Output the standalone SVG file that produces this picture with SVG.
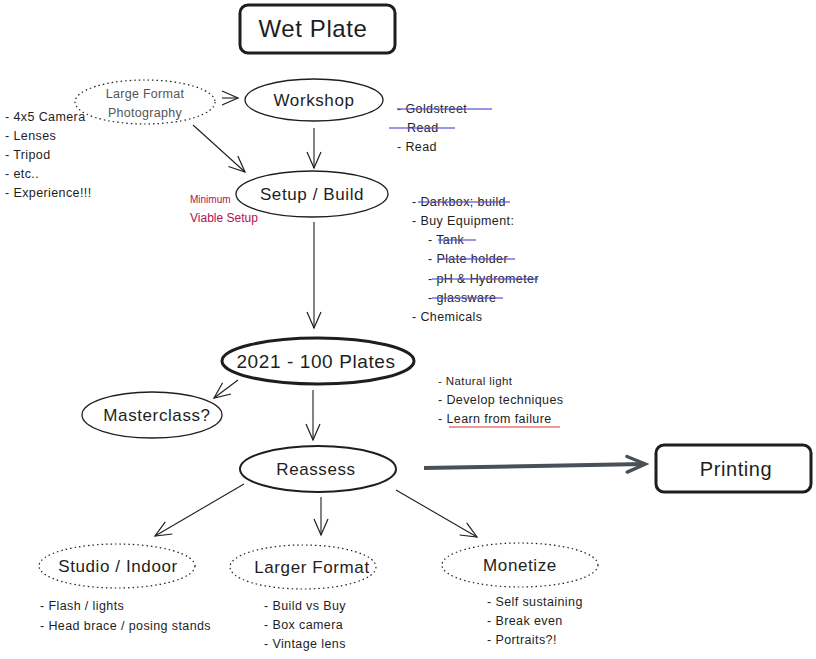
<svg xmlns="http://www.w3.org/2000/svg" width="816" height="659" viewBox="0 0 816 659">
<defs>
<marker id="ah" viewBox="0 0 20 20" refX="18" refY="10" markerWidth="20" markerHeight="20" markerUnits="userSpaceOnUse" orient="auto">
<path d="M2,3 L18,10 L2,17" fill="none" stroke="#1e1e1e" stroke-width="1.2"/>
</marker>
<marker id="ahg" viewBox="0 0 20 20" refX="16" refY="10" markerWidth="26" markerHeight="26" markerUnits="userSpaceOnUse" orient="auto">
<path d="M3,4 L17,10 L3,16" fill="none" stroke="#495057" stroke-width="2.6" stroke-linecap="round"/>
</marker>
</defs>
<style>
text{font-family:"Liberation Sans","Noto Sans",sans-serif;fill:#1e1e1e}
.node{fill:#fff;stroke:#1e1e1e;stroke-width:1.3}
.dot{fill:#fff;stroke:#1e1e1e;stroke-width:1.2;stroke-dasharray:1.5 3}
.t{font-size:17px;letter-spacing:0.6px;text-anchor:middle}
.l{font-size:12.5px;letter-spacing:0.4px}
.red{fill:#b0124f;font-size:12px}
.strike{stroke:#5b4fd6;stroke-width:1.4;opacity:0.8}
.conn{fill:none;stroke:#1e1e1e;stroke-width:1.1;marker-end:url(#ah)}
</style>
<rect width="816" height="659" fill="#fff"/>

<g id="connectors">
<path class="conn" d="M222,98 L238,98"/>
<path class="conn" d="M314,128 L314,168"/>
<path class="conn" d="M193,125 L245,172"/>
<path class="conn" d="M314,222 L314,328"/>
<path class="conn" d="M238,380 L214,398"/>
<path class="conn" d="M313,390 L313,440"/>
<path d="M424,468 L644,464" fill="none" stroke="#495057" stroke-width="4" marker-end="url(#ahg)"/>
<path class="conn" d="M244,484 L155,536"/>
<path class="conn" d="M321,497 L321,535"/>
<path class="conn" d="M396,490 L477,537"/>
</g>

<g id="wet-plate">
<rect x="240" y="5" width="155" height="48" rx="8" fill="#fff" stroke="#1e1e1e" stroke-width="3"/>
<text x="313" y="37" style="font-size:24px;letter-spacing:0.6px;text-anchor:middle">Wet Plate</text>
</g>

<g id="large-format">
<ellipse class="dot" cx="145" cy="102" rx="70" ry="22"/>
<text x="145" y="98" style="font-size:12.5px;letter-spacing:0.3px;text-anchor:middle;fill:#555">Large Format</text>
<text x="145" y="117" style="font-size:12.5px;letter-spacing:0.3px;text-anchor:middle;fill:#555">Photography</text>
</g>

<g id="left-list">
<text class="l" x="5" y="121">- 4x5 Camera</text>
<text class="l" x="5" y="140">- Lenses</text>
<text class="l" x="5" y="159">- Tripod</text>
<text class="l" x="5" y="178">- etc..</text>
<text class="l" x="5" y="197">- Experience!!!</text>
</g>

<g id="workshop">
<ellipse class="node" cx="314" cy="100" rx="69" ry="21"/>
<text class="t" x="314" y="106">Workshop</text>
</g>

<g id="workshop-notes">
<text class="l" x="397" y="113">- Goldstreet</text>
<line class="strike" x1="397" y1="109" x2="492" y2="109"/>
<text class="l" x="407" y="132">Read</text>
<line class="strike" x1="389" y1="128" x2="455" y2="128"/>
<text class="l" x="397" y="151">- Read</text>
</g>

<g id="setup">
<ellipse class="node" cx="312" cy="194" rx="76" ry="23"/>
<text class="t" x="312" y="200">Setup / Build</text>
</g>

<g id="mvs-note">
<text class="red" x="190" y="203" style="font-size:10px">Minimum</text>
<text class="red" x="190" y="222">Viable Setup</text>
</g>

<g id="setup-notes">
<text class="l" x="412" y="206">- Darkbox; build</text>
<line class="strike" x1="418" y1="202" x2="510" y2="202"/>
<text class="l" x="412" y="225">- Buy Equipment:</text>
<text class="l" x="428" y="244">- Tank</text>
<line class="strike" x1="438" y1="240" x2="476" y2="240"/>
<text class="l" x="428" y="263">- Plate holder</text>
<line class="strike" x1="438" y1="259" x2="515" y2="259"/>
<text class="l" x="428" y="283">- pH &amp; Hydrometer</text>
<line class="strike" x1="432" y1="279" x2="538" y2="279"/>
<text class="l" x="428" y="302">- glassware</text>
<line class="strike" x1="432" y1="298" x2="503" y2="298"/>
<text class="l" x="412" y="321">- Chemicals</text>
</g>

<g id="plates">
<ellipse cx="318" cy="361" rx="96" ry="23" fill="#fff" stroke="#1e1e1e" stroke-width="3"/>
<text x="316" y="368" style="font-size:19px;letter-spacing:0.6px;text-anchor:middle">2021 - 100 Plates</text>
</g>

<g id="masterclass">
<ellipse class="node" cx="152" cy="415" rx="70" ry="23"/>
<text class="t" x="157" y="421">Masterclass?</text>
</g>

<g id="plates-notes">
<text class="l" x="438" y="385" style="font-size:11.5px">- Natural light</text>
<text class="l" x="438" y="404">- Develop techniques</text>
<text class="l" x="438" y="423">- Learn from failure</text>
<line x1="449" y1="427" x2="560" y2="427" stroke="#e03131" stroke-width="1.2"/>
</g>

<g id="reassess">
<ellipse cx="318" cy="469" rx="78" ry="23" fill="#fff" stroke="#1e1e1e" stroke-width="2"/>
<text class="t" x="316" y="475">Reassess</text>
</g>

<g id="printing">
<rect x="656" y="445" width="155" height="47" rx="8" fill="#fff" stroke="#1e1e1e" stroke-width="3"/>
<text x="736" y="476" style="font-size:20px;letter-spacing:0.6px;text-anchor:middle">Printing</text>
</g>

<g id="studio">
<ellipse class="dot" cx="117" cy="566" rx="78" ry="22"/>
<text class="t" x="118" y="572">Studio / Indoor</text>
</g>
<g id="studio-notes">
<text class="l" x="40" y="610">- Flash / lights</text>
<text class="l" x="40" y="630">- Head brace / posing stands</text>
</g>

<g id="larger-format">
<ellipse class="dot" cx="303" cy="567" rx="73" ry="22"/>
<text class="t" x="312" y="573">Larger Format</text>
</g>
<g id="larger-notes">
<text class="l" x="264" y="610">- Build vs Buy</text>
<text class="l" x="264" y="629">- Box camera</text>
<text class="l" x="264" y="648">- Vintage lens</text>
</g>

<g id="monetize">
<ellipse class="dot" cx="520" cy="565" rx="78" ry="22"/>
<text class="t" x="520" y="571">Monetize</text>
</g>
<g id="monetize-notes">
<text class="l" x="487" y="606">- Self sustaining</text>
<text class="l" x="487" y="625">- Break even</text>
<text class="l" x="487" y="644">- Portraits?!</text>
</g>
</svg>
